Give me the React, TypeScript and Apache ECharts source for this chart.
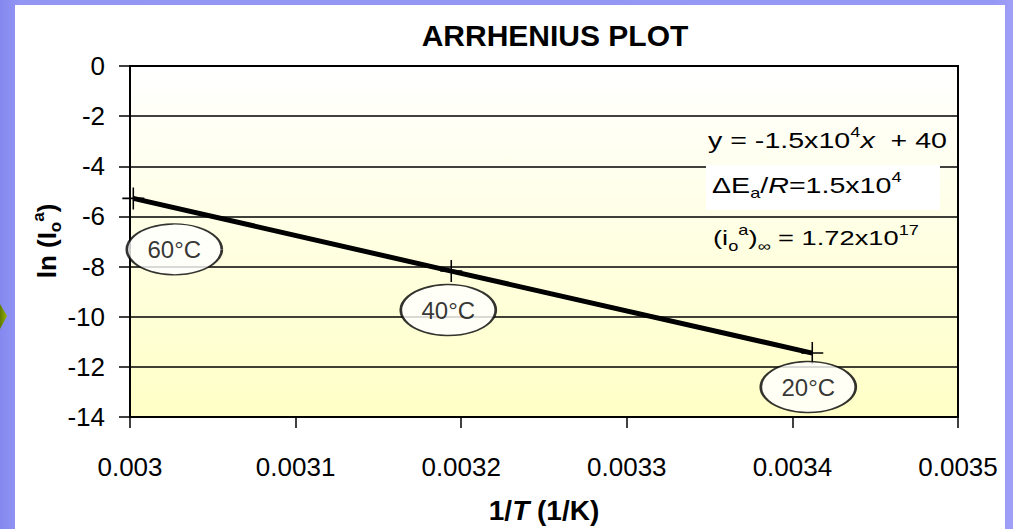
import React, { useEffect, useRef } from "react";
import * as echarts from "echarts";

// ---- data ----
const invT = [0.003002, 0.003194, 0.003412]; // 1/T (1/K)
const lnIo = [-5.28, -8.18, -11.45]; // ln(Io^a)
const tempLabels = ["60°C", "40°C", "20°C"];
const xRange = [0.003, 0.0035];
const yRange = [-14, 0];
const xStep = 0.0001;
const yStep = 2;

// ---- label bubble offsets (pixels, style only) ----
const bubbleOffsets = [
  [41, 51],
  [-3, 39],
  [-4, 34],
];

const FONT = 'Arial, "Liberation Sans", Helvetica, sans-serif';
const PLUS = "path://M9.3,0h1.4v20h-1.4z M0,9.3h20v1.4h-20z";

export default function App() {
  const ref = useRef<HTMLDivElement>(null);

  useEffect(() => {
    if (!ref.current) return;
    const chart = echarts.init(ref.current, undefined, { renderer: "svg" });

    const points = invT.map((x, i) => [x, lnIo[i]]);
    const bubbles = invT.map((x, i) => ({
      value: [x, lnIo[i]],
      name: tempLabels[i],
      symbolOffset: bubbleOffsets[i],
    }));

    const sup = { fontFamily: FONT, fontSize: 14, lineHeight: 14, verticalAlign: "top", color: "#000" };
    const sub = { fontFamily: FONT, fontSize: 14, lineHeight: 14, verticalAlign: "bottom", color: "#000" };
    const n = { fontFamily: FONT, fontSize: 22, lineHeight: 30, color: "#000" };
    const it = { ...n, fontStyle: "italic" };

    chart.setOption({
      animation: false,
      backgroundColor: "transparent",
      title: {
        text: "ARRHENIUS PLOT",
        left: 550,
        textAlign: "center",
        top: 15,
        textStyle: { fontFamily: FONT, fontSize: 30, fontWeight: "bold", color: "#000" },
      },
      grid: {
        left: 130,
        right: 55,
        top: 66,
        bottom: 112,
        show: true,
        borderColor: "#000",
        borderWidth: 2,
        backgroundColor: new echarts.graphic.LinearGradient(0, 0, 0, 1, [
          { offset: 0, color: "#ffffff" },
          { offset: 1, color: "#ffffc6" },
        ]),
      },
      xAxis: {
        type: "value",
        min: xRange[0],
        max: xRange[1],
        interval: xStep,
        axisLine: { show: true, onZero: false, lineStyle: { color: "#000", width: 2 } },
        axisTick: { show: true, length: 11, lineStyle: { color: "#000", width: 1.5 } },
        splitLine: { show: false },
        axisLabel: {
          margin: 37,
          fontFamily: FONT,
          fontSize: 26,
          color: "#000",
          formatter: (v: number) => String(+v.toFixed(4)),
        },
        name: "{b|1/}{bi|T}{b| (1/K)}",
        nameLocation: "middle",
        nameGap: 79,
        nameTextStyle: {
          rich: {
            b: { fontFamily: FONT, fontSize: 28, fontWeight: "bold", color: "#000" },
            bi: { fontFamily: FONT, fontSize: 28, fontWeight: "bold", fontStyle: "italic", color: "#000" },
          },
        },
      },
      yAxis: {
        type: "value",
        min: yRange[0],
        max: yRange[1],
        interval: yStep,
        axisLine: { show: true, onZero: false, lineStyle: { color: "#000", width: 2 } },
        axisTick: { show: true, length: 11, lineStyle: { color: "#000", width: 1.5 } },
        splitLine: { show: true, lineStyle: { color: "#000", width: 1.5 } },
        axisLabel: { margin: 25, fontFamily: FONT, fontSize: 26, color: "#000" },
      },
      series: [
        {
          type: "line",
          data: points,
          symbol: PLUS,
          symbolSize: 22,
          showAllSymbol: true,
          itemStyle: { color: "#000" },
          lineStyle: { color: "#000", width: 5 },
          z: 3,
        },
        {
          type: "scatter",
          data: bubbles,
          symbol: "circle",
          symbolSize: [95, 51],
          itemStyle: { color: "#fff", borderColor: "#000", borderWidth: 2 },
          label: {
            show: true,
            position: "inside",
            formatter: "{b}",
            fontFamily: FONT,
            fontSize: 24,
            color: "#000",
          },
          z: 4,
        },
      ],
      graphic: [
        {
          type: "rect",
          z: -10,
          silent: true,
          shape: { x: 15, y: 5, width: 990, height: 524 },
          style: { fill: "#ffffff" },
        },
        {
          type: "polygon",
          z: -9,
          silent: true,
          shape: { points: [[0, 304], [7, 316], [0, 329]] },
          style: {
            fill: new echarts.graphic.LinearGradient(0, 0, 1, 0, [
              { offset: 0, color: "#5f7a00" },
              { offset: 1, color: "#9ab400" },
            ]),
          },
        },
        {
          type: "text",
          z: 11,
          x: 47,
          y: 241,
          rotation: Math.PI / 2,
          style: {
            x: 0,
            y: 0,
            text: "{b|ln (I}{sub|o}{sup|a}{b|)}",
            align: "center",
            verticalAlign: "middle",
            rich: {
              b: { fontFamily: FONT, fontSize: 26, fontWeight: "bold", lineHeight: 34, color: "#000" },
              sub: { fontFamily: FONT, fontSize: 17, fontWeight: "bold", lineHeight: 17, verticalAlign: "bottom", color: "#000" },
              sup: { fontFamily: FONT, fontSize: 17, fontWeight: "bold", lineHeight: 17, verticalAlign: "top", color: "#000" },
            },
          },
        },
        {
          type: "rect",
          z: 10,
          silent: true,
          shape: { x: 706, y: 165, width: 234, height: 45 },
          style: { fill: "#ffffff" },
        },
        {
          type: "text",
          z: 11,
          x: 708,
          y: 140,
          scaleX: 1.3,
          style: {
            x: 0,
            y: 0,
            text: "{n|y = -1.5x10}{sup|4}{i|x}{n|  + 40}",
            verticalAlign: "middle",
            rich: { n, sup, i: it },
          },
        },
        {
          type: "text",
          z: 11,
          x: 712,
          y: 185,
          scaleX: 1.3,
          style: {
            x: 0,
            y: 0,
            text: "{n|ΔE}{sub|a}{n|/}{i|R}{n|=1.5x10}{sup|4}",
            verticalAlign: "middle",
            rich: { n, sup, sub, i: it },
          },
        },
        {
          type: "text",
          z: 11,
          x: 713,
          y: 238,
          scaleX: 1.3,
          style: {
            x: 0,
            y: 0,
            text: "{n|(i}{sub|o}{sup|a}{n|)}{sub|∞}{n| = 1.72x10}{sup|17}",
            verticalAlign: "middle",
            rich: { n: { ...n, fontSize: 21 }, sup, sub },
          },
        },
      ],
    });

    return () => chart.dispose();
  }, []);

  return (
    <div
      style={{
        position: "absolute",
        left: 0,
        top: 0,
        width: 1013,
        height: 529,
        background: "linear-gradient(90deg, #8389ef 0%, #9496f4 2%, #9698f5 98%, #a09ff8 100%)",
      }}
    >
      <div ref={ref} style={{ width: 1013, height: 529 }} />
    </div>
  );
}
